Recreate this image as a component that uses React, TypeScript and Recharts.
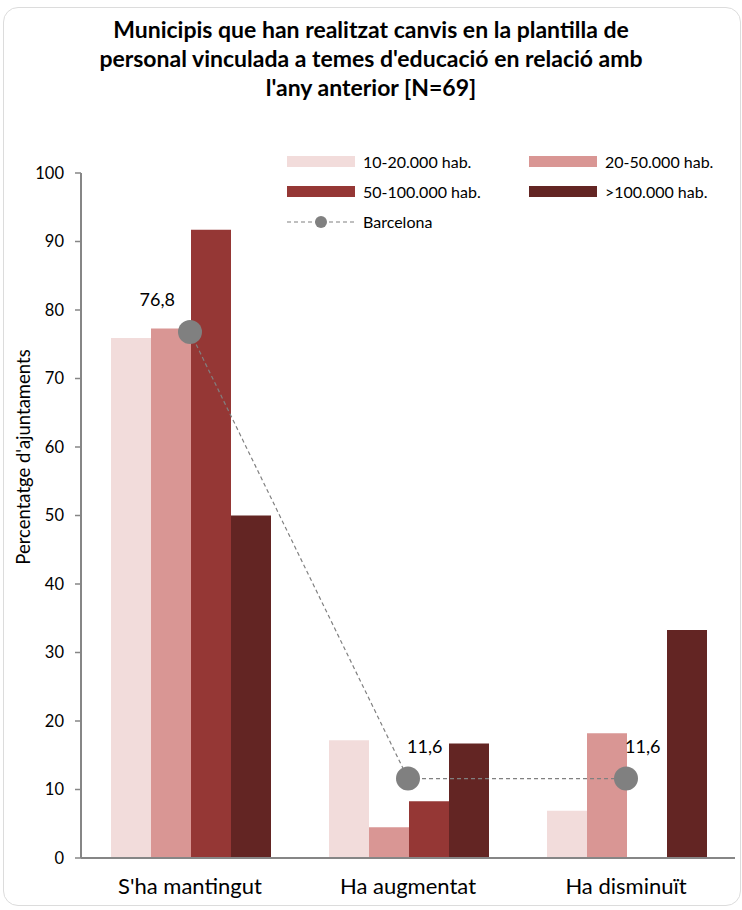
import React from "react";
import {
  ComposedChart,
  Bar,
  Line,
  XAxis,
  YAxis,
  Legend,
  Label,
} from "recharts";

const categories = ["S'ha mantingut", "Ha augmentat", "Ha disminuït"];
const hab10_20 = [75.9, 17.2, 6.9];
const hab20_50 = [77.3, 4.5, 18.2];
const hab50_100 = [91.7, 8.3, 0];
const hab100 = [50.0, 16.7, 33.3];
const barcelona = [76.8, 11.6, 11.6];
const yTicks = [0, 10, 20, 30, 40, 50, 60, 70, 80, 90, 100];

const series = [
  { key: "h1", name: "10-20.000 hab.", values: hab10_20, color: "#f2dcdb" },
  { key: "h2", name: "20-50.000 hab.", values: hab20_50, color: "#d99694" },
  { key: "h3", name: "50-100.000 hab.", values: hab50_100, color: "#953735" },
  { key: "h4", name: ">100.000 hab.", values: hab100, color: "#632523" },
];

const data = categories.map((c, i) => {
  const row: any = { cat: c, bcn: barcelona[i] };
  series.forEach((s) => (row[s.key] = s.values[i]));
  return row;
});

const FONT = "Lato, 'Open Sans', sans-serif";

function fmt(v: number) {
  return v.toFixed(1).replace(".", ",");
}

const BcnLabel = (props: any) => {
  const { x, y, value, index } = props;
  // first label sits to the left of the point, the others to the right
  const left = index === 0;
  return (
    <text
      x={left ? x - 15 : x - 1}
      y={y - 33}
      textAnchor={left ? "end" : "start"}
      dominantBaseline="central"
      fontSize={18}
      fontFamily={FONT}
      fill="#000"
    >
      {fmt(value)}
    </text>
  );
};

const renderLegend = () => (
  <div style={{ fontFamily: FONT, fontSize: 16, color: "#000", textAlign: "left" }}>
    <div style={{ display: "grid", gridTemplateColumns: "242px 200px", rowGap: 13 }}>
      {series.map((s) => (
        <div key={s.key} style={{ display: "flex", alignItems: "center", height: 17 }}>
          <span style={{ display: "inline-block", width: 68, height: 11, background: s.color, marginRight: 8 }} />
          <span>{s.name}</span>
        </div>
      ))}
    </div>
    <div style={{ display: "flex", alignItems: "center", height: 17, marginTop: 13 }}>
      <svg width={68} height={14} style={{ marginRight: 8 }}>
        <line x1={0} y1={7} x2={68} y2={7} stroke="#808080" strokeWidth={1.2} strokeDasharray="4 3" />
        <circle cx={34} cy={7} r={6} fill="#808080" />
      </svg>
      <span>Barcelona</span>
    </div>
  </div>
);

export default function App() {
  return (
    <div style={{ position: "absolute", left: 0, top: 0, width: 742, height: 910, background: "#fff" }}>
      <div
        style={{
          position: "absolute",
          left: 3,
          top: 7,
          width: 736,
          height: 897,
          border: "1px solid #dcdcdc",
          borderRadius: 15,
        }}
      />
      <div
        style={{
          position: "absolute",
          left: 0,
          top: 15,
          width: 742,
          textAlign: "center",
          fontFamily: FONT,
          fontWeight: "bold",
          fontSize: 23,
          lineHeight: "29px",
          color: "#000",
        }}
      >
        Municipis que han realitzat canvis en la plantilla de
        <br />
        personal vinculada a temes d'educació en relació amb
        <br />
        l'any anterior [N=69]
      </div>
      <div style={{ position: "absolute", left: 0, top: 0 }}>
        <ComposedChart
          width={742}
          height={910}
          data={data}
          margin={{ top: 173, right: 7, bottom: 0, left: 0 }}
          barCategoryGap={30}
          barGap={0}
        >
          <XAxis
            dataKey="cat"
            tickLine={false}
            axisLine={{ stroke: "#868686", strokeWidth: 2 }}
            tick={{ fontSize: 22, fill: "#000", fontFamily: FONT }}
            tickMargin={14}
            height={52}
            interval={0}
          />
          <YAxis
            width={81}
            domain={[0, 100]}
            ticks={yTicks}
            interval={0}
            axisLine={{ stroke: "#868686", strokeWidth: 2 }}
            tickLine={{ stroke: "#868686", strokeWidth: 1.5 }}
            tickSize={6}
            tickMargin={11}
            tick={{ fontSize: 16.5, fill: "#000", fontFamily: FONT }}
          >
            <Label
              content={() => (
                <text
                  x={23}
                  y={457}
                  transform="rotate(-90 23 457)"
                  textAnchor="middle"
                  dominantBaseline="central"
                  fontSize={18.5}
                  fontFamily={FONT}
                  fill="#000"
                >
                  Percentatge d'ajuntaments
                </text>
              )}
            />
          </YAxis>
          <Legend
            layout="horizontal"
            verticalAlign="middle"
            align="center"
            content={renderLegend}
            wrapperStyle={{ position: "absolute", top: 153, left: 287, width: 450 }}
          />
          {series.map((s) => (
            <Bar key={s.key} dataKey={s.key} name={s.name} fill={s.color} isAnimationActive={false} />
          ))}
          <Line
            dataKey="bcn"
            name="Barcelona"
            type="linear"
            stroke="#808080"
            strokeWidth={1.2}
            strokeDasharray="4 3"
            dot={{ r: 12, fill: "#808080", stroke: "none" }}
            activeDot={false}
            label={<BcnLabel />}
            isAnimationActive={false}
          />
        </ComposedChart>
      </div>
    </div>
  );
}
